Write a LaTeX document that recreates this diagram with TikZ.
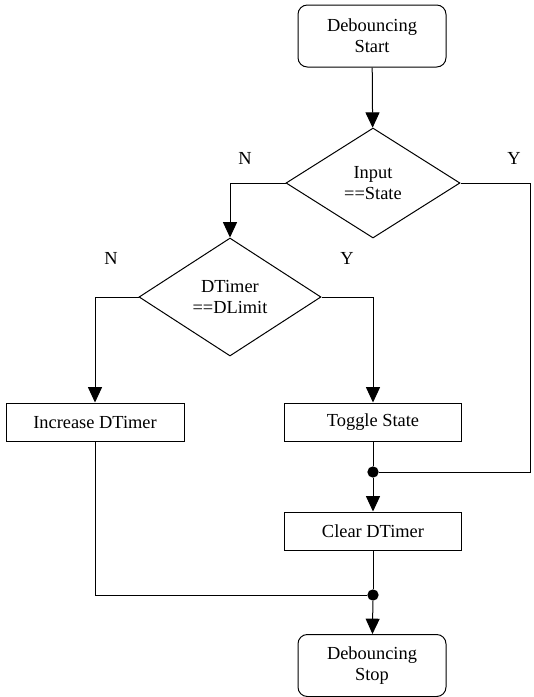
\documentclass[tikz,border=0pt]{standalone}
\usepackage{fontspec}
\setmainfont{Liberation Serif}
\usetikzlibrary{shapes.geometric,arrows.meta}

\tikzset{
  flow/.style={-{Triangle[length=11.5pt,width=10.5pt]}},
  termbox/.style={draw,rounded corners=7pt,minimum width=111pt,minimum height=46.5pt,align=center,inner sep=0pt},
  procbox/.style={draw,minimum width=133pt,minimum height=28.5pt,inner sep=0pt},
  decide/.style={draw,diamond,aspect=1.55,inner sep=0pt,align=center},
  junction/.style={circle,fill,inner sep=0pt,minimum size=8.5pt}
}

\begin{document}
\begin{tikzpicture}[x=0.75pt,y=-0.75pt,line width=0.75pt,font=\fontsize{13.8}{15.8}\selectfont]
  \useasboundingbox (0,0) rectangle (533,697);

  \node[termbox] (start) at (372,36) {Debouncing\\Start};
  \node[decide,minimum width=130.5pt,minimum height=82.5pt] (inp) at (373,183) {Input\\==State};
  \node[decide,minimum width=136.5pt,minimum height=88.5pt] (lim) at (230,297) {DTimer\\==DLimit};
  \node[procbox,minimum width=133.5pt] (inc) at (95,422) {Increase DTimer};
  \node[procbox] (tog) at (373,422) {Toggle State};
  \node[junction] (j1) at (373,472) {};
  \node[procbox] (clr) at (373,531) {Clear DTimer};
  \node[junction] (j2) at (373,595) {};
  \node[termbox] (stop) at (372,665.5) {Debouncing\\Stop};
  \coordinate (edge) at (530,0);

  \node at (245,158) {N};
  \node at (514,158) {Y};
  \node at (111,258) {N};
  \node at (347,258) {Y};

  \draw[flow] (start) -- (inp);
  \draw[flow] (inp.west) -| (lim.north);
  \draw (inp.east) -- (inp.east -| edge) -- (edge |- j1) -- (j1);
  \draw[flow] (lim.west) -| (inc.north);
  \draw[flow] (lim.east) -| (tog.north);
  \draw (tog) -- (j1);
  \draw[flow] (j1) -- (clr);
  \draw (clr) -- (j2);
  \draw (inc) |- (j2);
  \draw[flow] (j2) -- (stop);
\end{tikzpicture}
\end{document}
